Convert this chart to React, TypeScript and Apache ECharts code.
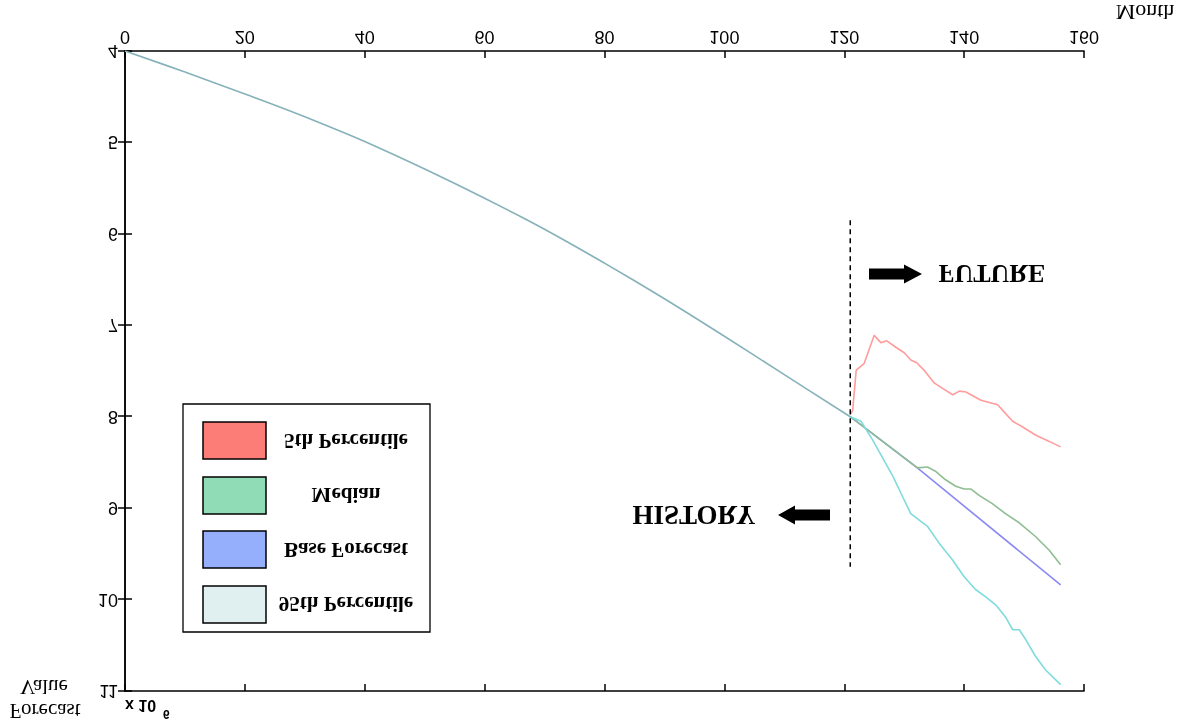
import React, { useEffect, useRef } from "react";
import * as echarts from "echarts";

// values (months, values in x 10^6)
const historyMonths = [0, 10, 20, 30, 40, 50, 60, 70, 80, 90, 100, 110, 121];
const historyValues = [4.0, 4.23, 4.47, 4.72, 4.99, 5.29, 5.61, 5.95, 6.32, 6.71, 7.12, 7.54, 8.0];

const p5Months = [121, 121.4, 122, 123.3, 125, 126.1, 127.1, 128.6, 130, 131.1, 132.1, 133.3, 135, 136.4, 138.1, 139.2, 140.3, 142.8, 145.6, 146.7, 148.1, 149.7, 151.9, 154.2, 156.1];
const p5Values = [7.98, 7.93, 7.49, 7.42, 7.11, 7.19, 7.17, 7.24, 7.3, 7.38, 7.41, 7.49, 7.63, 7.69, 7.76, 7.72, 7.73, 7.82, 7.87, 7.95, 8.05, 8.11, 8.2, 8.27, 8.33];

const medianMonths = [121, 132.2, 133.9, 135.3, 136.9, 138.6, 140, 141.1, 142.5, 144.7, 146.9, 149.2, 151.9, 154.2, 156.1];
const medianValues = [8.0, 8.56, 8.55, 8.6, 8.69, 8.76, 8.79, 8.79, 8.86, 8.95, 9.06, 9.16, 9.31, 9.46, 9.62];

const baseMonths = [121, 132.2, 156.1];
const baseValues = [8.0, 8.56, 9.84];

const p95Months = [121, 122.8, 124.7, 126.4, 128.1, 129.7, 130.3, 131.1, 132.5, 133.9, 135.8, 138.1, 140, 141.9, 143.6, 145.3, 146.9, 148.1, 149.2, 150.3, 151.9, 153.6, 156.1];
const p95Values = [8.0, 8.05, 8.25, 8.45, 8.65, 8.87, 8.95, 9.06, 9.13, 9.2, 9.38, 9.57, 9.75, 9.89, 9.97, 10.06, 10.19, 10.33, 10.33, 10.44, 10.62, 10.77, 10.93];

const splitMonth = 121;
const splitRange = [5.85, 9.64];

const legendNames = ["95th Percentile", "Base Forecast", "Median", "5th Percentile"];
const legendColors = ["#e0f0f0", "#95affd", "#90dcb7", "#fc7c77"];

const zip = (xs: number[], ys: number[]) => xs.map((x, i) => [x, ys[i]]);

const serif = "Liberation Serif, Times New Roman, serif";
const sans = "Liberation Sans, Arial, sans-serif";

const App = () => {
  const chartRef = useRef<HTMLDivElement>(null);

  useEffect(() => {
    const chart = echarts.init(chartRef.current, null, { renderer: "svg" });

    const boxAxis = {
      axisLine: { show: true, lineStyle: { color: "#000", width: 1.5 } },
      axisTick: { show: true, inside: true, length: 7, lineStyle: { color: "#000", width: 1.5 } },
      splitLine: { show: false },
    };

    const line = (name: string, data: number[][], color: string, smooth: number | boolean = false) => ({
      name,
      type: "line",
      data,
      smooth,
      showSymbol: false,
      lineStyle: { color, width: 1.6 },
      itemStyle: { color },
    });

    const legendItems: any[] = [];
    const swatchY = [101, 156, 210, 265];
    const textY = [120, 174, 229, 283];
    legendNames.forEach((n, i) => {
      legendItems.push({
        type: "rect",
        shape: { x: 203, y: swatchY[i], width: 63, height: 37 },
        style: { fill: legendColors[i], stroke: "#000", lineWidth: 1.5 },
        z: 101,
      });
      legendItems.push({
        type: "text",
        x: 346,
        y: textY[i],
        style: {
          text: n,
          fontFamily: serif,
          fontWeight: "bold",
          fontSize: 21,
          fill: "#000",
          align: "center",
          verticalAlign: "middle",
        },
        z: 101,
      });
    });

    const option = {
      animation: false,
      backgroundColor: "#fff",
      grid: { left: 125, right: 97, top: 33, bottom: 51 },
      xAxis: [
        {
          type: "value",
          min: 0,
          max: 160,
          interval: 20,
          ...boxAxis,
          axisLabel: { color: "#000", fontSize: 18, fontFamily: sans, margin: 5 },
        },
        {
          type: "value",
          position: "top",
          min: 0,
          max: 160,
          interval: 20,
          ...boxAxis,
          axisLabel: { show: false },
        },
      ],
      yAxis: [
        {
          type: "value",
          min: 4,
          max: 11,
          interval: 1,
          ...boxAxis,
          axisLabel: { color: "#000", fontSize: 18, fontFamily: sans, margin: 7 },
        },
        {
          type: "value",
          position: "right",
          min: 4,
          max: 11,
          interval: 1,
          ...boxAxis,
          axisLabel: { show: false },
        },
      ],
      series: [
        line("History", zip(historyMonths, historyValues), "#86b2ba", 0.4),
        line("Base Forecast", zip(baseMonths, baseValues), "#8a8af2"),
        line("Median", zip(medianMonths, medianValues), "#8fbd92"),
        line("95th Percentile", zip(p95Months, p95Values), "#7fdcdc"),
        line("5th Percentile", zip(p5Months, p5Values), "#ff9c9c"),
        {
          name: "split",
          type: "line",
          data: [
            [splitMonth, splitRange[0]],
            [splitMonth, splitRange[1]],
          ],
          showSymbol: false,
          lineStyle: { color: "#000", width: 1.5, type: [5, 4] },
          z: 3,
        },
      ],
      graphic: [
        {
          type: "rect",
          shape: { x: 183, y: 92, width: 247, height: 228 },
          style: { fill: "#fff", stroke: "#000", lineWidth: 1.3 },
          z: 100,
        },
        ...legendItems,
        {
          type: "text",
          x: 1145,
          y: 711,
          style: { text: "Month", fontFamily: serif, fontSize: 22, fill: "#000", align: "center", verticalAlign: "middle" },
        },
        {
          type: "text",
          x: 45,
          y: 13,
          style: { text: "Forecast", fontFamily: serif, fontSize: 21, fill: "#000", align: "center", verticalAlign: "middle" },
        },
        {
          type: "text",
          x: 44,
          y: 37,
          style: { text: "Value", fontFamily: serif, fontSize: 21, fill: "#000", align: "center", verticalAlign: "middle" },
        },
        {
          type: "text",
          x: 125,
          y: 18,
          style: { text: "x 10", fontFamily: sans, fontSize: 16, fontWeight: "bold", fill: "#000", align: "left", verticalAlign: "middle" },
        },
        {
          type: "text",
          x: 163,
          y: 10,
          style: { text: "6", fontFamily: sans, fontSize: 12, fontWeight: "bold", fill: "#000", align: "left", verticalAlign: "middle" },
        },
        {
          type: "text",
          x: 694,
          y: 209,
          style: { text: "HISTORY", fontFamily: serif, fontSize: 27, fontWeight: "bold", fill: "#000", align: "center", verticalAlign: "middle" },
        },
        {
          type: "polygon",
          shape: {
            points: [[830, 203.5], [795, 203.5], [795, 199.5], [778, 209], [795, 218.5], [795, 214.5], [830, 214.5]],
          },
          style: { fill: "#000" },
        },
        {
          type: "text",
          x: 992,
          y: 450,
          style: { text: "FUTURE", fontFamily: serif, fontSize: 26, fontWeight: "bold", fill: "#000", align: "center", verticalAlign: "middle" },
        },
        {
          type: "polygon",
          shape: {
            points: [[869, 444.5], [904, 444.5], [904, 440.5], [922, 450], [904, 459.5], [904, 455.5], [869, 455.5]],
          },
          style: { fill: "#000" },
        },
      ],
    };

    chart.setOption(option as any);

    return () => {
      chart.dispose();
    };
  }, []);

  // the reference is the chart mirrored top to bottom
  return (
    <div
      ref={chartRef}
      style={{
        position: "fixed",
        left: 0,
        top: 0,
        width: "100vw",
        height: "100vh",
        transform: "scaleY(-1)",
      }}
    />
  );
};

export default App;
